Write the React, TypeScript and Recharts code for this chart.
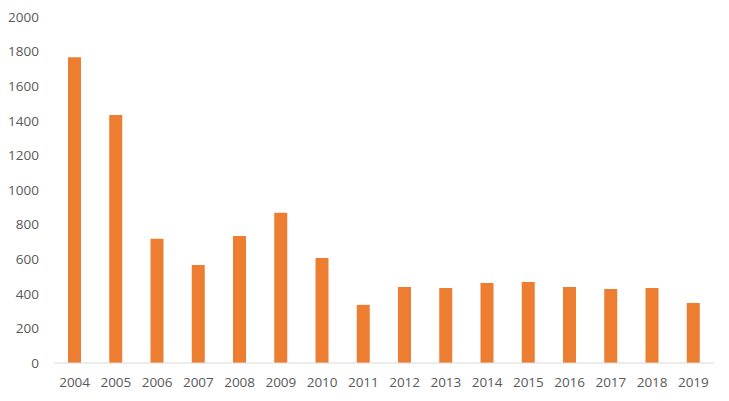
import { BarChart, Bar, XAxis, YAxis } from 'recharts';

const YEARS = ['2004', '2005', '2006', '2007', '2008', '2009', '2010', '2011', '2012', '2013', '2014', '2015', '2016', '2017', '2018', '2019'];
const VALUES = [1768, 1434, 718, 567, 734, 868, 607, 336, 439, 434, 462, 468, 439, 428, 434, 347];
const Y_TICKS = [0, 200, 400, 600, 800, 1000, 1200, 1400, 1600, 1800, 2000];

const data = YEARS.map((year, i) => ({ year, value: VALUES[i] }));

const tickStyle = { fontSize: 13.5, fill: '#595959', fontFamily: '"Open Sans", sans-serif' };

export default function App() {
  return (
    <div style={{ position: 'absolute', left: 0, top: 0, background: '#fff' }}>
      <BarChart width={729} height={401} data={data} margin={{ top: 17, right: 15, left: 0, bottom: 0 }}>
        <XAxis
          dataKey="year"
          height={38}
          tick={tickStyle}
          tickLine={false}
          axisLine={{ stroke: '#d9d9d9' }}
          tickMargin={8}
          interval={0}
        />
        <YAxis
          width={54}
          domain={[0, 2000]}
          ticks={Y_TICKS}
          tick={tickStyle}
          tickLine={false}
          axisLine={false}
          tickMargin={9}
        />
        <Bar dataKey="value" fill="#ED7D31" barSize={13} isAnimationActive={false} />
      </BarChart>
    </div>
  );
}
